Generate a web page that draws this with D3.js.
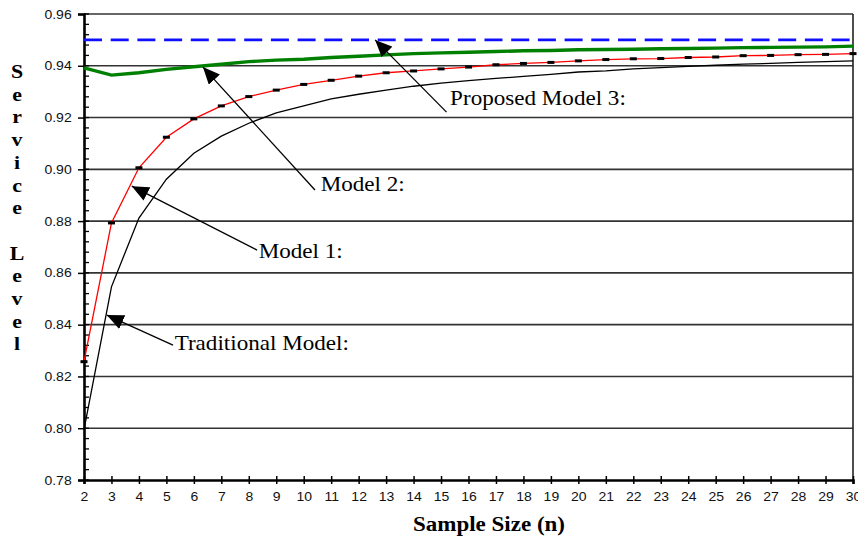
<!DOCTYPE html>
<html>
<head>
<meta charset="utf-8">
<script src="https://cdn.jsdelivr.net/npm/d3@7"></script>
<style>
  body { margin: 0; background: #fff; }
  svg { display: block; }
</style>
</head>
<body>
<div id="chart"></div>
<script>
// sample sizes on the x axis
var sampleSize = d3.range(2, 31);

// service level per model
var traditional = [0.7995, 0.8546, 0.8812, 0.8962, 0.9062, 0.9128, 0.9178, 0.9218, 0.9245, 0.9272,
  0.9290, 0.9306, 0.9321, 0.9333, 0.9343, 0.9351, 0.9359, 0.9367, 0.9376, 0.9380,
  0.9388, 0.9393, 0.9398, 0.9402, 0.9406, 0.9409, 0.9413, 0.9416, 0.9419];
var model1 = [0.8257, 0.8793, 0.9006, 0.9124, 0.9195, 0.9245, 0.9281, 0.9306, 0.9328, 0.9344,
  0.9360, 0.9373, 0.9380, 0.9388, 0.9395, 0.9404, 0.9409, 0.9413, 0.9419, 0.9424,
  0.9427, 0.9428, 0.9432, 0.9434, 0.9439, 0.9440, 0.9443, 0.9444, 0.9447];
var model2 = [0.9392, 0.9364, 0.9373, 0.9386, 0.9396, 0.9406, 0.9416, 0.9422, 0.9425, 0.9432,
  0.9437, 0.9442, 0.9447, 0.9450, 0.9452, 0.9455, 0.9458, 0.9459, 0.9462, 0.9463,
  0.9464, 0.9466, 0.9467, 0.9468, 0.9470, 0.9471, 0.9472, 0.9473, 0.9476];
var target = 0.95;

var yTicks = [0.78, 0.80, 0.82, 0.84, 0.86, 0.88, 0.90, 0.92, 0.94, 0.96];

// annotation labels: text anchor, arrow tail and arrow tip, in data units
var notes = [
  {label: "Proposed Model 3:", tx: 15.33, ty: 0.9248, x1: 15.2, y1: 0.9221, x2: 12.6, y2: 0.9500},
  {label: "Model 2:", tx: 10.62, ty: 0.8917, x1: 10.41, y1: 0.8920, x2: 6.33, y2: 0.9395},
  {label: "Model 1:", tx: 8.36, ty: 0.8658, x1: 8.30, y1: 0.8688, x2: 3.74, y2: 0.8935},
  {label: "Traditional Model:", tx: 5.30, ty: 0.8302, x1: 5.24, y1: 0.8321, x2: 2.83, y2: 0.8437}
];

var margin = {top: 14, right: 5, bottom: 57, left: 84},
    width = 858 - margin.left - margin.right,
    height = 537 - margin.top - margin.bottom;

var svg = d3.select("#chart")
  .append("svg")
  .attr("width", 858)
  .attr("height", 537)
  .append("g")
  .attr("transform", "translate(" + margin.left + "," + margin.top + ")");

var x = d3.scaleLinear().domain([2, 30]).range([0, width]);
var y = d3.scaleLinear().domain([0.78, 0.96]).range([height, 0]);

// horizontal gridlines
svg.append("g")
  .selectAll("line")
  .data(yTicks.slice(1))
  .enter().append("line")
  .attr("x1", 0)
  .attr("x2", width)
  .attr("y1", function(d) { return y(d); })
  .attr("y2", function(d) { return y(d); })
  .attr("stroke", "#333")
  .attr("stroke-width", 1.6);

// right frame
svg.append("line")
  .attr("x1", width).attr("x2", width)
  .attr("y1", 0).attr("y2", height)
  .attr("stroke", "#222").attr("stroke-width", 1.6);

// minor ticks on the y axis (inside)
svg.append("g")
  .selectAll("line")
  .data(d3.range(0, 46).map(function(i) { return 0.78 + i * 0.004; }))
  .enter().append("line")
  .attr("x1", 0).attr("x2", 5)
  .attr("y1", function(d) { return y(d); })
  .attr("y2", function(d) { return y(d); })
  .attr("stroke", "#000").attr("stroke-width", 1.3);

// y axis
var yAxis = svg.append("g")
  .call(d3.axisLeft(y).tickValues(yTicks).tickSize(6).tickPadding(6)
    .tickFormat(d3.format(".2f")));
yAxis.select(".domain").attr("stroke-width", 2.6).attr("stroke", "#000");
yAxis.selectAll(".tick line").attr("stroke-width", 1.5);
yAxis.selectAll("text")
  .style("font-family", "Liberation Sans, Arial, sans-serif")
  .style("font-size", "12.5px")
  .attr("x", -11)
  .attr("transform", "scale(1.12,1)")
  .attr("fill", "#111");

// x axis
var xAxis = svg.append("g")
  .attr("transform", "translate(0," + height + ")")
  .call(d3.axisBottom(x).tickValues(sampleSize).tickSizeOuter(0).tickSize(4).tickPadding(8)
    .tickFormat(d3.format("d")));
xAxis.select(".domain").attr("stroke-width", 2.6).attr("stroke", "#000");
xAxis.selectAll(".tick line").attr("y1", -4).attr("stroke-width", 1.5);
xAxis.selectAll("text")
  .style("font-family", "Liberation Sans, Arial, sans-serif")
  .style("font-size", "12.5px")
  .attr("transform", "scale(1.12,1)")
  .attr("fill", "#111");

// target line
svg.append("line")
  .attr("x1", x(2)).attr("x2", x(30))
  .attr("y1", y(target)).attr("y2", y(target))
  .attr("stroke", "#1010ff")
  .attr("stroke-width", 2.8)
  .attr("stroke-dasharray", "18,8.7");

var line = d3.line()
  .x(function(d, i) { return x(sampleSize[i]); })
  .y(function(d) { return y(d); });

svg.append("path")
  .datum(traditional)
  .attr("fill", "none")
  .attr("stroke", "#000")
  .attr("stroke-width", 1.3)
  .attr("d", line);

svg.append("path")
  .datum(model1)
  .attr("fill", "none")
  .attr("stroke", "#ff0000")
  .attr("stroke-width", 1.3)
  .attr("d", line);

// dash markers on model 1
svg.append("g")
  .selectAll("rect")
  .data(model1)
  .enter().append("rect")
  .attr("x", function(d, i) { return x(sampleSize[i]) - 3.5; })
  .attr("y", function(d) { return y(d) - 1.5; })
  .attr("width", 7)
  .attr("height", 3)
  .attr("fill", "#000");

svg.append("path")
  .datum(model2)
  .attr("fill", "none")
  .attr("stroke", "#008000")
  .attr("stroke-width", 3.4)
  .attr("d", line);

// arrow annotations
svg.append("defs").append("marker")
  .attr("id", "head")
  .attr("viewBox", "0 0 17 15")
  .attr("refX", 17)
  .attr("refY", 7.5)
  .attr("markerWidth", 17)
  .attr("markerHeight", 15)
  .attr("markerUnits", "userSpaceOnUse")
  .attr("orient", "auto")
  .append("path")
  .attr("d", "M0,0 L17,7.5 L0,15 Z")
  .attr("fill", "#000");

var note = svg.append("g")
  .selectAll("g")
  .data(notes)
  .enter().append("g");

note.append("line")
  .attr("x1", function(d) { return x(d.x1); })
  .attr("y1", function(d) { return y(d.y1); })
  .attr("x2", function(d) { return x(d.x2); })
  .attr("y2", function(d) { return y(d.y2); })
  .attr("stroke", "#000")
  .attr("stroke-width", 1.3)
  .attr("marker-end", "url(#head)");

note.append("text")
  .attr("transform", function(d) {
    return "translate(" + x(d.tx) + "," + y(d.ty) + ") scale(1.1,1)";
  })
  .style("font-family", "Liberation Serif, Times New Roman, serif")
  .style("font-size", "21px")
  .attr("fill", "#000")
  .text(function(d) { return d.label; });

// x axis title
svg.append("text")
  .attr("transform", "translate(" + (489 - margin.left) + "," + (531 - margin.top) + ") scale(1.15,1)")
  .style("text-anchor", "middle")
  .style("font-family", "Liberation Serif, Times New Roman, serif")
  .style("font-weight", "bold")
  .style("font-size", "20px")
  .text("Sample Size (n)");

// y axis title, one letter per row
var yTitle = "Service Level".split("");
svg.append("g")
  .selectAll("text")
  .data(yTitle)
  .enter().append("text")
  .attr("transform", function(d, i) {
    return "translate(" + (17 - margin.left) + "," + (78 - margin.top + i * 22.7) + ") scale(1.15,1)";
  })
  .style("text-anchor", "middle")
  .style("font-family", "Liberation Serif, Times New Roman, serif")
  .style("font-weight", "bold")
  .style("font-size", "19px")
  .text(function(d) { return d; });
</script>
</body>
</html>
